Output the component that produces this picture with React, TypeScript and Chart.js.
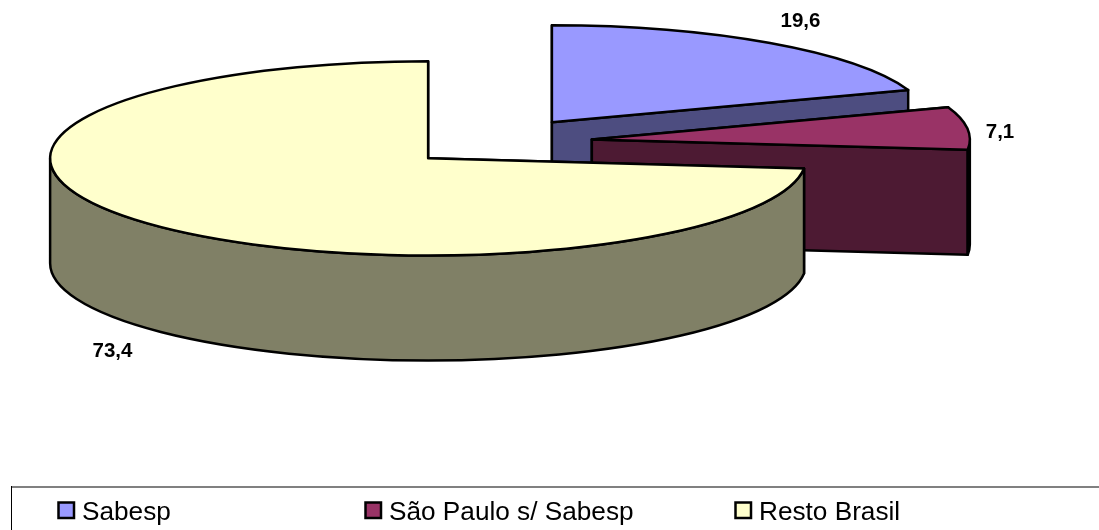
import React, { useEffect, useRef } from "react";
import { Chart, registerables } from "chart.js";

Chart.register(...registerables);

const categories = ["Sabesp", "São Paulo s/ Sabesp", "Resto Brasil"];
const shares = [19.6, 7.1, 73.4];
const topColors = ["#9999FF", "#993366", "#FFFFCC"];
const sideColors = ["#4D4D80", "#4D1A33", "#808066"];

const WIDTH = 1099;
const HEIGHT = 530;
const RADIUS = 378;
const EXPLODE = [96, 96, 92];
const TILT = 0.257;
const DEPTH = 105;
const FONT = '"Liberation Sans", Arial, sans-serif';
const labelSpots = [
  [800.5, 21],
  [1000, 132],
  [112.5, 351],
];
const legendBoxX = [58.5, 365.5, 735.5];
const legendTextX = [82, 389, 759];

const pie3d = {
  id: "pie3d",
  beforeDatasetDraw(chart: any, args: any) {
    const ctx: CanvasRenderingContext2D = chart.ctx;
    args.meta.data.forEach((el: any, i: number) => {
      const { x, y, startAngle: s, endAngle: e, outerRadius: r } = el;
      const off = el.options.offset;
      const mid = (s + e) / 2;
      const cx = x + Math.cos(mid) * off;
      const cy = y + Math.sin(mid) * off * TILT;
      const ry = r * TILT;
      const rim = (a: number) => [cx + r * Math.cos(a), cy + ry * Math.sin(a)];
      ctx.save();
      ctx.lineWidth = 2.5;
      ctx.lineJoin = "round";
      ctx.strokeStyle = "#000";
      ctx.fillStyle = sideColors[i];
      // cut faces
      [s, e].forEach((a) => {
        const [px, py] = rim(a);
        ctx.beginPath();
        ctx.moveTo(cx, cy);
        ctx.lineTo(px, py);
        ctx.lineTo(px, py + DEPTH);
        ctx.lineTo(cx, cy + DEPTH);
        ctx.closePath();
        ctx.fill();
        ctx.stroke();
      });
      // front part of the rim
      const a0 = Math.max(s, 0);
      const a1 = Math.min(e, Math.PI);
      if (a1 > a0) {
        ctx.beginPath();
        ctx.ellipse(cx, cy, r, ry, 0, a0, a1);
        ctx.ellipse(cx, cy + DEPTH, r, ry, 0, a1, a0, true);
        ctx.closePath();
        ctx.fill();
        ctx.stroke();
      }
      // top face
      ctx.fillStyle = el.options.backgroundColor;
      ctx.beginPath();
      ctx.moveTo(cx, cy);
      ctx.ellipse(cx, cy, r, ry, 0, s, e);
      ctx.closePath();
      ctx.fill();
      ctx.stroke();
      ctx.restore();
    });
    return false;
  },
  afterDraw(chart: any) {
    const ctx: CanvasRenderingContext2D = chart.ctx;
    const values = chart.data.datasets[0].data;
    const colors = chart.data.datasets[0].backgroundColor;
    ctx.save();
    ctx.fillStyle = "#000";
    ctx.textAlign = "center";
    ctx.textBaseline = "middle";
    ctx.font = `bold 20.5px ${FONT}`;
    values.forEach((v: number, i: number) => {
      ctx.fillText(v.toFixed(1).replace(".", ","), labelSpots[i][0], labelSpots[i][1]);
    });
    // legend frame
    ctx.strokeStyle = "#808080";
    ctx.lineWidth = 2;
    ctx.beginPath();
    ctx.moveTo(11, 487);
    ctx.lineTo(WIDTH, 487);
    ctx.stroke();
    ctx.strokeStyle = "#000";
    ctx.lineWidth = 1;
    ctx.beginPath();
    ctx.moveTo(11.5, 486);
    ctx.lineTo(11.5, HEIGHT);
    ctx.stroke();
    // legend entries
    ctx.textAlign = "left";
    ctx.textBaseline = "alphabetic";
    ctx.font = `26.2px ${FONT}`;
    chart.data.labels.forEach((label: string, i: number) => {
      ctx.fillStyle = colors[i];
      ctx.strokeStyle = "#000";
      ctx.lineWidth = 2.5;
      ctx.fillRect(legendBoxX[i], 502.5, 15.5, 15.5);
      ctx.strokeRect(legendBoxX[i], 502.5, 15.5, 15.5);
      ctx.fillStyle = "#000";
      ctx.fillText(label, legendTextX[i], 520);
    });
    ctx.restore();
  },
};

export default function App() {
  const ref = useRef<HTMLCanvasElement>(null);
  useEffect(() => {
    const chart = new Chart(ref.current as HTMLCanvasElement, {
      type: "pie",
      data: {
        labels: categories,
        datasets: [
          {
            data: shares,
            backgroundColor: topColors,
            offset: EXPLODE,
            borderWidth: 0,
            radius: RADIUS,
          } as any,
        ],
      },
      options: {
        responsive: false,
        animation: false,
        layout: { padding: { left: 0, right: 106, top: 0, bottom: 245 } },
        plugins: { legend: { display: false }, tooltip: { enabled: false } },
      },
      plugins: [pie3d as any],
    });
    return () => chart.destroy();
  }, []);
  return (
    <div style={{ position: "absolute", left: 0, top: 0, width: WIDTH, height: HEIGHT, background: "#fff" }}>
      <canvas ref={ref} width={WIDTH} height={HEIGHT} style={{ display: "block" }} />
    </div>
  );
}
